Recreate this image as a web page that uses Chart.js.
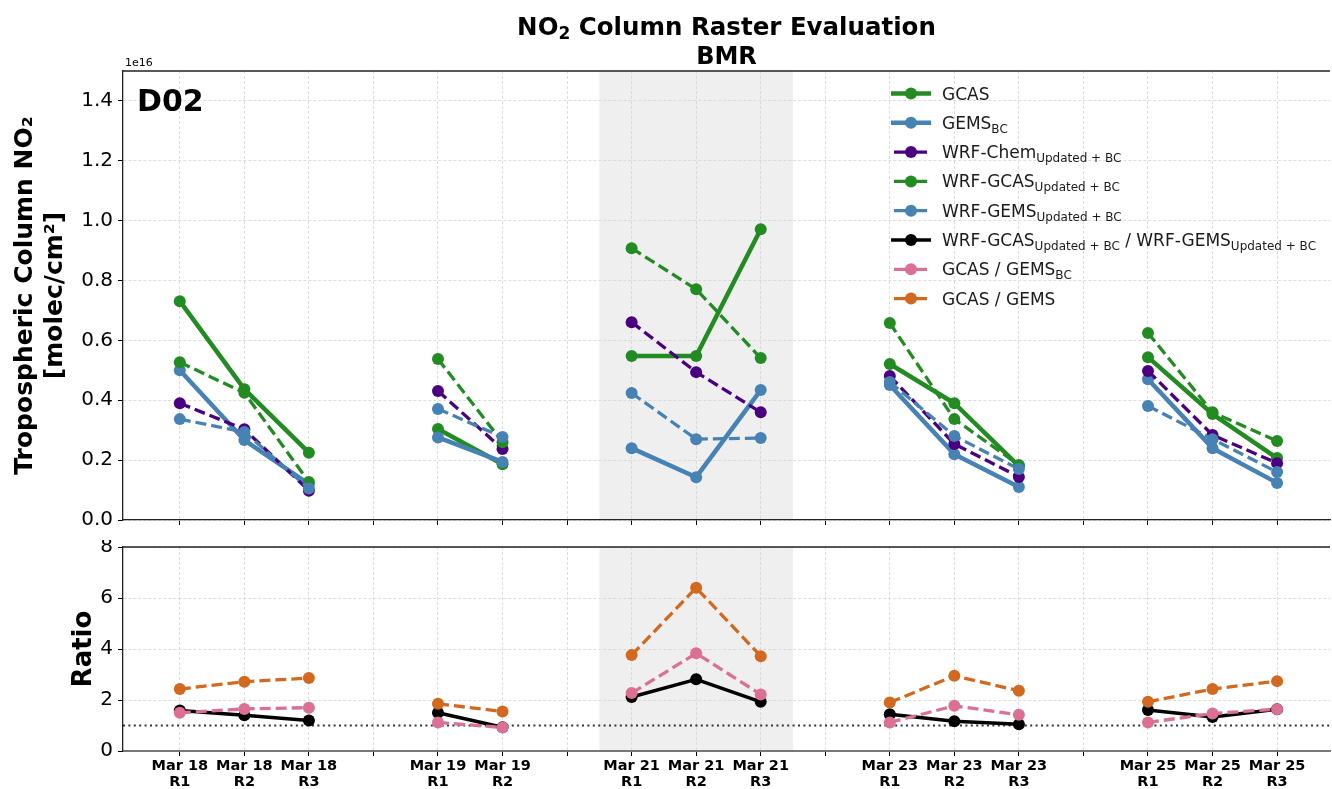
<!DOCTYPE html>
<html>
<head>
<meta charset="utf-8">
<script src="https://cdn.jsdelivr.net/npm/chart.js@4"></script>
<style>
  body { margin: 0; background: #fff; }
  #wrap { position: relative; width: 1332px; height: 789px; }
  #top { position: absolute; left: 0; top: 0; }
  #bot { position: absolute; left: 0; top: 540px; }
</style>
</head>
<body>
<div id="wrap">
  <canvas id="top" width="1332" height="540"></canvas>
  <canvas id="bot" width="1332" height="249"></canvas>
</div>
<script>
Chart.defaults.font.family = "'DejaVu Sans', sans-serif";
Chart.defaults.color = '#000';
Chart.defaults.animation = false;

// flights (categories)
var dates = ['Mar 18', 'Mar 18', 'Mar 18', 'Mar 19', 'Mar 19', 'Mar 21', 'Mar 21', 'Mar 21',
             'Mar 23', 'Mar 23', 'Mar 23', 'Mar 25', 'Mar 25', 'Mar 25'];
var runs = ['R1', 'R2', 'R3', 'R1', 'R2', 'R1', 'R2', 'R3', 'R1', 'R2', 'R3', 'R1', 'R2', 'R3'];
var shadedDate = 'Mar 21';

// tropospheric NO2 column, 1e16 molec/cm2
var gcas    = [0.731, 0.437, 0.225, 0.304, 0.186, 0.548, 0.548, 0.971, 0.521, 0.390, 0.180, 0.544, 0.354, 0.207];
var gemsBC  = [0.500, 0.267, 0.120, 0.276, 0.194, 0.240, 0.143, 0.434, 0.451, 0.220, 0.110, 0.470, 0.240, 0.124];
var wrfChem = [0.390, 0.303, 0.098, 0.431, 0.237, 0.661, 0.494, 0.360, 0.481, 0.254, 0.144, 0.498, 0.284, 0.190];
var wrfGcas = [0.527, 0.425, 0.127, 0.538, 0.260, 0.908, 0.771, 0.541, 0.658, 0.337, 0.184, 0.625, 0.360, 0.264];
var wrfGems = [0.337, 0.294, 0.105, 0.371, 0.277, 0.424, 0.270, 0.274, 0.461, 0.281, 0.170, 0.381, 0.270, 0.160];

// ratios
var ratioWrf    = [1.59, 1.40, 1.20, 1.50, 0.93, 2.12, 2.81, 1.93, 1.44, 1.17, 1.05, 1.61, 1.33, 1.64];
var ratioGemsBC = [1.50, 1.65, 1.70, 1.12, 0.92, 2.27, 3.83, 2.22, 1.12, 1.77, 1.42, 1.12, 1.47, 1.64];
var ratioGems   = [2.43, 2.72, 2.86, 1.85, 1.55, 3.76, 6.40, 3.72, 1.90, 2.95, 2.36, 1.93, 2.43, 2.74];

// tick labels
var colTicks = [0, 0.2, 0.4, 0.6, 0.8, 1.0, 1.2, 1.4];
var ratioTicks = [0, 2, 4, 6, 8];

// x positions: one empty slot between days
var xPos = [];
var p = 0;
dates.forEach(function(d, i) {
  if (i > 0) p += (d !== dates[i - 1]) ? 2 : 1;
  xPos.push(p);
});
var xLast = xPos[xPos.length - 1];

function toPoints(vals) {
  var pts = [];
  vals.forEach(function(v, i) {
    if (i > 0 && dates[i] !== dates[i - 1]) pts.push({ x: xPos[i] - 1, y: null });
    pts.push({ x: xPos[i], y: v });
  });
  return pts;
}

var GREEN = '#228B22', BLUE = '#4682B4', PURPLE = '#4B0082', PINK = '#DB7093', ORANGE = '#D2691E';
var DASH = [11, 5];

function series(vals, color, width, dashed, order) {
  return {
    data: toPoints(vals),
    borderColor: color,
    backgroundColor: color,
    borderWidth: width,
    borderDash: dashed ? DASH : [],
    borderCapStyle: 'butt',
    borderJoinStyle: 'round',
    pointRadius: 6,
    pointBorderWidth: 0,
    pointBackgroundColor: color,
    spanGaps: false,
    tension: 0,
    order: order
  };
}

function xScale(showLabels, h) {
  return {
    type: 'linear',
    min: -0.88,
    max: xLast + 0.82,
    afterBuildTicks: function(s) {
      var t = [];
      for (var v = 0; v <= xLast; v++) t.push({ value: v });
      s.ticks = t;
    },
    afterFit: function(s) { s.height = h; s.paddingLeft = 0; s.paddingRight = 0; },
    ticks: {
      display: showLabels,
      autoSkip: false,
      maxRotation: 0,
      padding: 2,
      font: { size: 14.5, weight: 'bold', lineHeight: 1.12 },
      callback: function(v) {
        var i = xPos.indexOf(v);
        return i < 0 ? '' : [dates[i], runs[i]];
      }
    },
    grid: { color: '#d4d4d4', lineWidth: 0.8, tickColor: '#000', tickLength: 5, tickWidth: 1, tickBorderDash: [] },
    border: { color: showLabels ? '#777' : '#222', width: showLabels ? 2 : 1.3, dash: [3, 2] }
  };
}

function yScale(min, max, tickVals, digits, title, titleSize, titlePad) {
  return {
    min: min,
    max: max,
    afterBuildTicks: function(s) { s.ticks = tickVals.map(function(v) { return { value: v }; }); },
    afterFit: function(s) { s.width = 123; s.paddingTop = 0; s.paddingBottom = 0; },
    ticks: {
      padding: 5,
      font: { size: 20 },
      callback: function(v) { return v.toFixed(digits); }
    },
    grid: { color: '#d4d4d4', lineWidth: 0.8, tickColor: '#000', tickLength: 5, tickWidth: 1, tickBorderDash: [] },
    border: { color: '#222', width: 1.3, dash: [3, 2] },
    title: {
      display: true,
      text: title,
      font: { size: titleSize, weight: 'bold', lineHeight: 1.2 },
      padding: { top: titlePad, bottom: 0 }
    }
  };
}

// grey band behind the shaded day, plus top spine
var panelDeco = {
  id: 'panelDeco',
  beforeDraw: function(chart) {
    var ctx = chart.ctx, a = chart.chartArea, xs = chart.scales.x;
    var idx = [];
    dates.forEach(function(d, i) { if (d === shadedDate) idx.push(xPos[i]); });
    var x1 = xs.getPixelForValue(idx[0] - 0.5), x2 = xs.getPixelForValue(idx[idx.length - 1] + 0.5);
    ctx.save();
    ctx.fillStyle = '#efefef';
    ctx.fillRect(x1, a.top, x2 - x1, a.bottom - a.top);
    ctx.restore();
  },
  afterDraw: function(chart) {
    var ctx = chart.ctx, a = chart.chartArea;
    ctx.save();
    ctx.strokeStyle = '#222';
    ctx.lineWidth = 1.3;
    ctx.beginPath();
    ctx.moveTo(a.left, a.top);
    ctx.lineTo(a.right, a.top);
    ctx.stroke();
    ctx.restore();
  }
};

// text with matplotlib-like subscripts: parts = [[text, isSub], ...]
function richWidth(ctx, parts, size, subSize, weight) {
  var w = 0;
  parts.forEach(function(pt) {
    ctx.font = weight + ' ' + (pt[1] ? subSize : size) + "px 'DejaVu Sans'";
    w += ctx.measureText(pt[0]).width;
  });
  return w;
}
function drawRich(ctx, parts, x, y, size, subSize, weight, subDrop) {
  ctx.textBaseline = 'alphabetic';
  ctx.textAlign = 'left';
  parts.forEach(function(pt) {
    ctx.font = weight + ' ' + (pt[1] ? subSize : size) + "px 'DejaVu Sans'";
    ctx.fillText(pt[0], x, pt[1] ? y + subDrop : y);
    x += ctx.measureText(pt[0]).width;
  });
}

var UBC = 'Updated + BC';
var legendItems = [
  { parts: [['GCAS', 0]], color: GREEN, width: 4.5, dashed: false },
  { parts: [['GEMS', 0], ['BC', 1]], color: BLUE, width: 4.5, dashed: false },
  { parts: [['WRF-Chem', 0], [UBC, 1]], color: PURPLE, width: 3.3, dashed: true },
  { parts: [['WRF-GCAS', 0], [UBC, 1]], color: GREEN, width: 3.3, dashed: true },
  { parts: [['WRF-GEMS', 0], [UBC, 1]], color: BLUE, width: 3.3, dashed: true },
  { parts: [['WRF-GCAS', 0], [UBC, 1], [' / WRF-GEMS', 0], [UBC, 1]], color: '#000', width: 3.5, dashed: false },
  { parts: [['GCAS / GEMS', 0], ['BC', 1]], color: PINK, width: 3.3, dashed: true },
  { parts: [['GCAS / GEMS', 0]], color: ORANGE, width: 3.3, dashed: true }
];

var topDeco = {
  id: 'topDeco',
  afterDraw: function(chart) {
    var ctx = chart.ctx, a = chart.chartArea;
    ctx.save();
    ctx.fillStyle = '#000';
    // title
    var t1 = [['NO', 0], ['2', 1], [' Column Raster Evaluation', 0]];
    var cx = (a.left + a.right) / 2;
    var w1 = richWidth(ctx, t1, 24.5, 17, 'bold');
    drawRich(ctx, t1, cx - w1 / 2, 35, 24.5, 17, 'bold', 4);
    ctx.font = "bold 24px 'DejaVu Sans'";
    ctx.textAlign = 'center';
    ctx.fillText('BMR', cx, 64);
    // offset text
    ctx.textAlign = 'left';
    ctx.font = "11px 'DejaVu Sans'";
    ctx.fillText('1e16', a.left + 2, 66);
    // panel label
    ctx.font = "bold 30px 'DejaVu Sans'";
    ctx.fillText('D02', a.left + 14, 111);
    // legend
    legendItems.forEach(function(it, k) {
      var y = 93.5 + k * 29.3;
      ctx.strokeStyle = it.color;
      ctx.lineWidth = it.width;
      ctx.lineCap = 'butt';
      ctx.setLineDash([]);
      ctx.beginPath();
      if (it.dashed) { ctx.moveTo(894, y); ctx.lineTo(927, y); }
      else { ctx.moveTo(891, y); ctx.lineTo(931, y); }
      ctx.stroke();
      ctx.fillStyle = it.color;
      ctx.beginPath();
      ctx.arc(911, y, 6, 0, Math.PI * 2);
      ctx.fill();
      ctx.fillStyle = '#1a1a1a';
      drawRich(ctx, it.parts, 942, y + 6, 17, 12, 'normal', 4);
    });
    ctx.restore();
  }
};

new Chart(document.getElementById('top'), {
  type: 'line',
  data: {
    datasets: [
      series(gcas, GREEN, 4.5, false, 5),
      series(gemsBC, BLUE, 4.5, false, 4),
      series(wrfChem, PURPLE, 3.3, true, 3),
      series(wrfGcas, GREEN, 3.3, true, 2),
      series(wrfGems, BLUE, 3.3, true, 1)
    ]
  },
  options: {
    responsive: false,
    layout: { autoPadding: false, padding: { top: 71, right: 2, left: 0, bottom: 0 } },
    plugins: { legend: { display: false }, tooltip: { enabled: false } },
    scales: {
      x: xScale(false, 20),
      y: yScale(0, 1.5, colTicks, 1, ['Tropospheric Column NO\u2082', '[molec/cm\u00b2]'], 25, 10)
    }
  },
  plugins: [panelDeco, topDeco]
});

var oneLine = {
  data: [{ x: -0.88, y: 1 }, { x: xLast + 0.82, y: 1 }],
  borderColor: '#333',
  borderWidth: 2,
  borderDash: [2, 3.4],
  pointRadius: 0,
  order: 10
};

new Chart(document.getElementById('bot'), {
  type: 'line',
  data: {
    datasets: [
      series(ratioWrf, '#000', 3.5, false, 3),
      series(ratioGemsBC, PINK, 3.3, true, 2),
      series(ratioGems, ORANGE, 3.3, true, 1),
      oneLine
    ]
  },
  options: {
    responsive: false,
    layout: { autoPadding: false, padding: { top: 7, right: 2, left: 0, bottom: 0 } },
    plugins: { legend: { display: false }, tooltip: { enabled: false } },
    scales: {
      x: xScale(true, 38),
      y: yScale(0, 8, ratioTicks, 0, 'Ratio', 26, 69)
    }
  },
  plugins: [panelDeco]
});
</script>
</body>
</html>
